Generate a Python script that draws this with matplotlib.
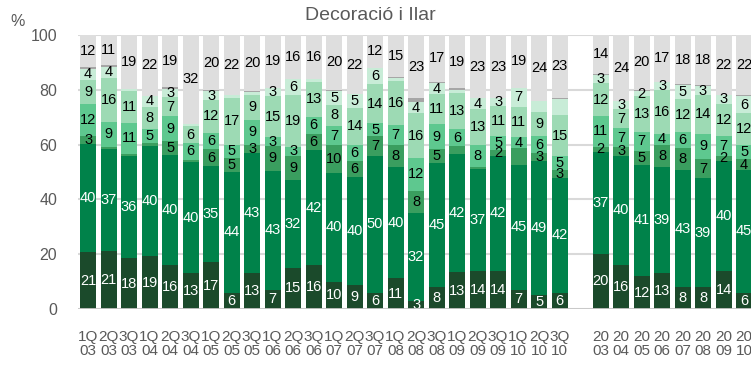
import numpy as np
import matplotlib
matplotlib.use("Agg")
import matplotlib.pyplot as plt

plt.rcParams['font.family'] = ['Liberation Sans', 'DejaVu Sans']

# -------------------------------------------------
# Data : share (%) of each category, bottom -> top

quarters = ['1Q\n03', '2Q\n03', '3Q\n03', '1Q\n04', '2Q\n04', '3Q\n04',
            '1Q\n05', '2Q\n05', '3Q\n05', '1Q\n06', '2Q\n06', '3Q\n06',
            '1Q\n07', '2Q\n07', '3Q\n07', '1Q\n08', '2Q\n08', '3Q\n08',
            '1Q\n09', '2Q\n09', '3Q\n09', '1Q\n10', '2Q\n10', '3Q\n10']
years = ['20\n03', '20\n04', '20\n05', '20\n06', '20\n07', '20\n08', '20\n09', '20\n10']

# quarterly bars then yearly bars
seg_a = [21, 21, 18, 19, 16, 13, 17, 6, 13, 7, 15, 16, 10, 9, 6, 11, 3, 8, 13, 14, 14, 7, 5, 6,
         20, 16, 12, 13, 8, 8, 14, 6]
seg_b = [40, 37, 36, 40, 40, 40, 35, 44, 43, 43, 32, 42, 40, 40, 50, 40, 32, 45, 42, 37, 42, 45, 49, 42,
         37, 40, 41, 39, 43, 39, 40, 45]
seg_c = [3, 1, 1, 1, 5, 1, 6, 5, 3, 9, 9, 6, 10, 6, 7, 8, 8, 5, 3, 1, 2, 6, 3, 3,
         2, 3, 5, 8, 8, 7, 2, 4]
seg_d = [12, 9, 11, 5, 9, 6, 6, 5, 9, 3, 3, 6, 7, 6, 5, 7, 12, 9, 6, 8, 5, 4, 6, 5,
         11, 7, 7, 4, 6, 9, 7, 5]
seg_e = [9, 16, 11, 8, 7, 6, 12, 17, 9, 15, 19, 13, 8, 14, 14, 16, 16, 11, 13, 13, 11, 11, 9, 15,
         12, 7, 13, 16, 12, 14, 12, 12]
seg_f = [4, 4, 1, 4, 3, 1, 3, 1, 1, 3, 6, 1, 5, 5, 6, 1, 4, 4, 1, 4, 3, 7, 4, 6,
         3, 3, 2, 3, 5, 3, 3, 6]
seg_g = [0.5, 0.5, 0, 0, 0.5, 0, 0.5, 0, 0.5, 0, 0, 0, 0.5, 0, 0, 0.5, 1.5, 0.5, 0.5, 0, 0, 0, 0, 0.5,
         0.5, 0, 0.5, 0, 0.5, 0.5, 0, 0.5]
seg_h = [12, 11, 19, 22, 19, 32, 20, 22, 20, 19, 16, 16, 20, 22, 12, 15, 23, 17, 19, 23, 23, 19, 24, 23,
         14, 24, 20, 17, 18, 18, 22, 22]

# segments drawn without a value label in the original (bar index, layer index)
hidden = [(18, 2), (21, 2), (22, 5), (23, 5)]

layers = [seg_a, seg_b, seg_c, seg_d, seg_e, seg_f, seg_g, seg_h]
colors = ['#1b4a2b', '#00824a', '#3a9e5f', '#5ec88f', '#9ddab4', '#c8ecd7', '#a6a6a6', '#dedede']
txt_colors = ['white', 'white', 'black', 'black', 'black', 'black', 'black', 'black']

# -------------------------------------------------
# Positions : 24 quarters, one empty slot, 8 years
x = np.concatenate([np.arange(24), np.arange(25, 33)])
vals = np.array(layers, dtype=float)
totals = vals.sum(axis=0)
heights = vals / totals * 100

fig = plt.figure(figsize=(7.51, 3.67), dpi=100)
ax = fig.add_axes([78 / 751, 58 / 367, 673 / 751, 274 / 367])

bottom = np.zeros(len(x))
for k in range(len(layers)):
    ax.bar(x, heights[k], bottom=bottom, width=0.78, color=colors[k], zorder=3, linewidth=0)
    for i in range(len(x)):
        v = vals[k, i]
        if k == 6 or v < 2 or (i, k) in hidden:
            continue
        ax.text(x[i], bottom[i] + heights[k, i] / 2, str(int(v)), ha='center', va='center',
                fontsize=10.5, color=txt_colors[k], zorder=4)
    bottom = bottom + heights[k]

# axes style
ax.set_xlim(-0.49, 32.34)
ax.set_ylim(0, 100)
ax.set_yticks([0, 20, 40, 60, 80, 100])
ax.yaxis.grid(True, color='#d9d9d9', linewidth=1.5, zorder=0)
ax.axhline(0, color='#c8c8c8', linewidth=2, zorder=5)
ax.set_xticks(x)
ax.set_xticklabels(quarters + years, linespacing=1.0)
ax.tick_params(axis='y', length=0, pad=15, labelsize=11.5, labelcolor='#595959')
ax.tick_params(axis='x', length=0, pad=15, labelsize=11, labelcolor='#595959')
for s in ax.spines.values():
    s.set_visible(False)

fig.text(18 / 751, 1 - 21 / 367, '%', ha='center', va='center', fontsize=11.5, color='#595959')
fig.text(370 / 751, 1 - 15 / 367, 'Decoració i Ilar', ha='center', va='center',
         fontsize=14, color='#595959')

plt.savefig('out.png', dpi=100)
